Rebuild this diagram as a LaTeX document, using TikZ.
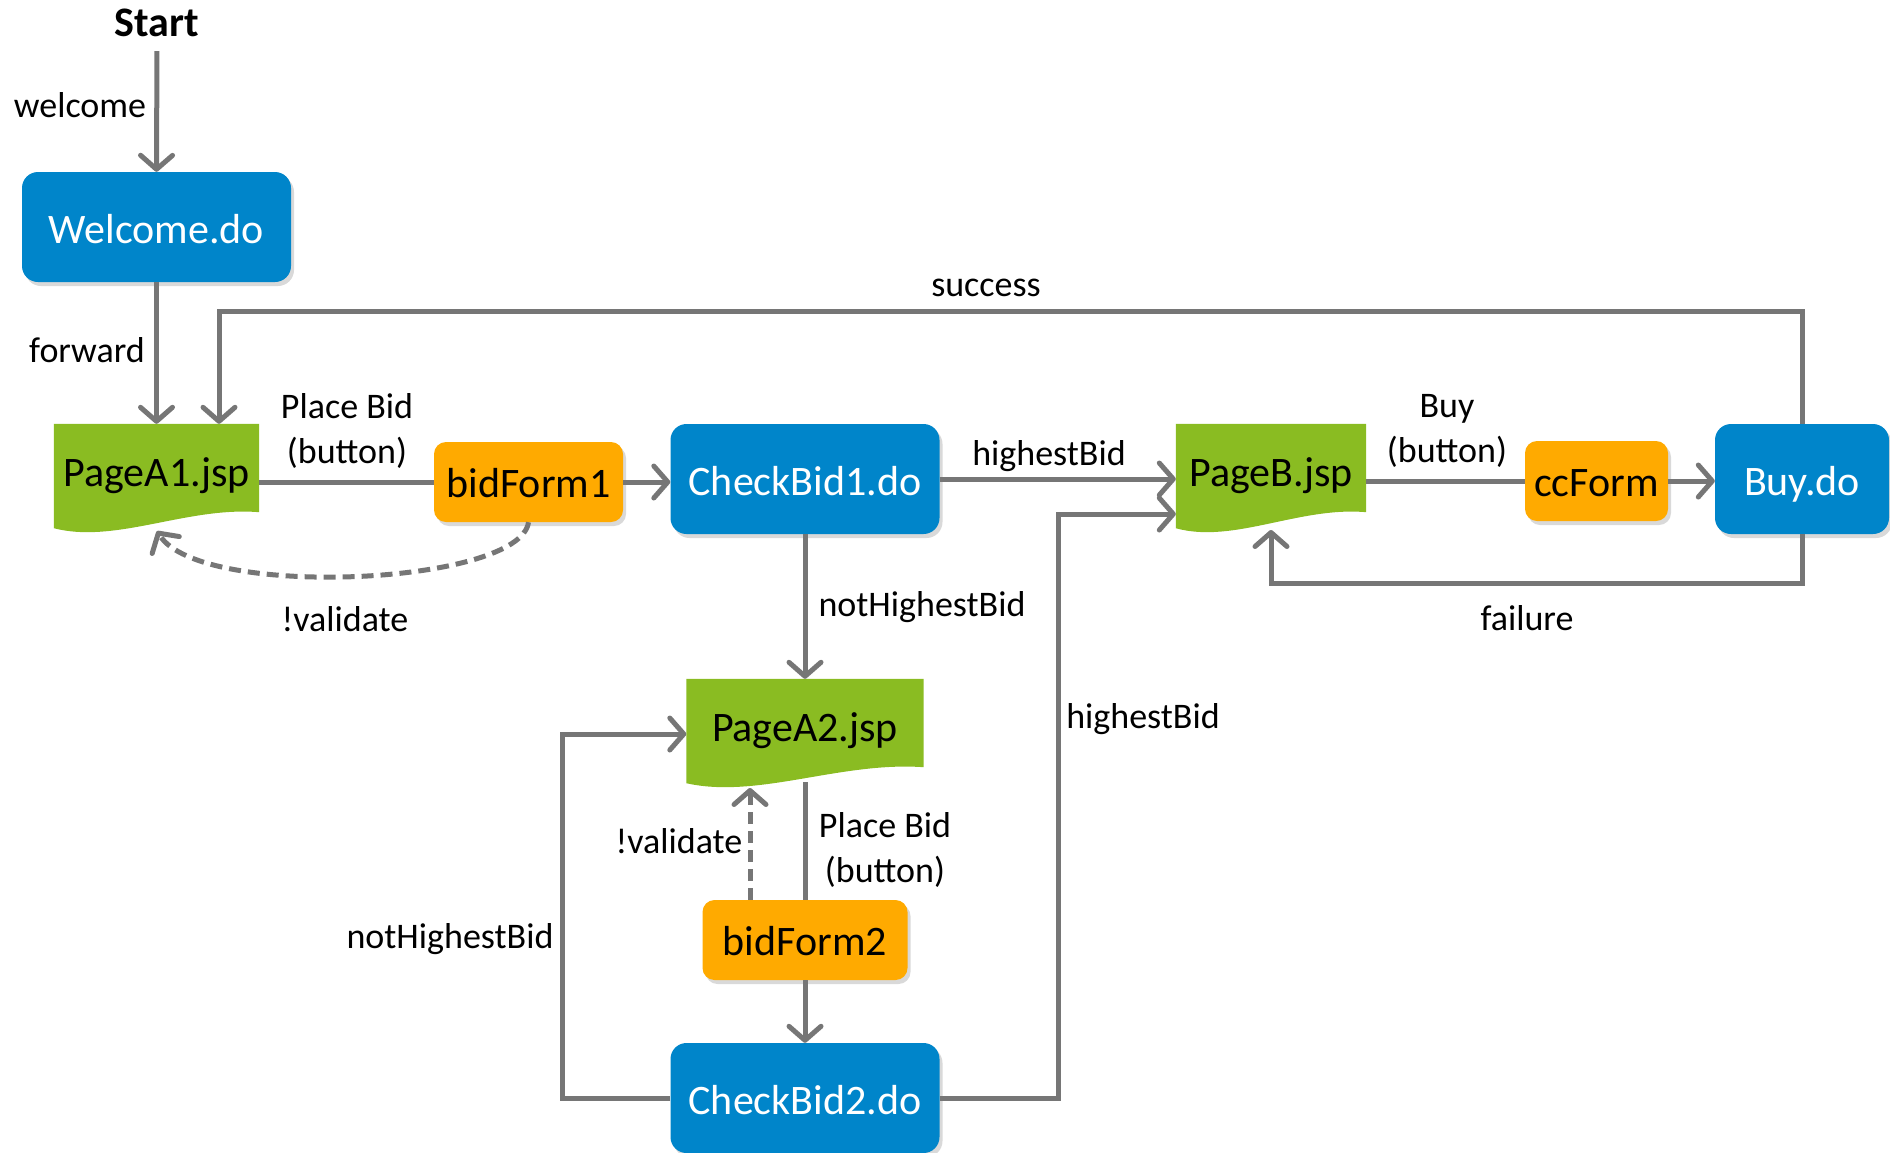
\documentclass[tikz,border=0pt]{standalone}
\usepackage{fontspec}
\setmainfont{Carlito}
\usetikzlibrary{arrows.meta,shadows,calc,backgrounds}
\definecolor{cblue}{RGB}{0,133,202}
\definecolor{cgreen}{RGB}{138,188,34}
\definecolor{corange}{RGB}{255,170,0}
\definecolor{cline}{RGB}{118,118,118}
\newcommand\bigfont{\fontsize{42}{50}\selectfont}
\newcommand\docpage[1]{\fill[cgreen] (#1.north west) -- (#1.north east) -- ($(#1.south east)+(0,-16)$) .. controls ($(#1.south west)!0.65!(#1.south east)+(0,-22)$) and ($(#1.south west)!0.3!(#1.south east)+(0,16)$) .. (#1.south west) -- cycle;}
\tikzset{
  action/.style={rectangle, rounded corners=16pt, fill=cblue, text=white, font=\bigfont,
    minimum height=110pt, inner sep=0pt, text height=33pt, text depth=0pt,
    drop shadow={opacity=0.3, shadow xshift=3pt, shadow yshift=-4pt}},
  form/.style={rectangle, rounded corners=12pt, fill=corange, font=\bigfont,
    minimum height=80pt, inner sep=0pt, text height=31pt, text depth=0pt,
    drop shadow={opacity=0.3, shadow xshift=3pt, shadow yshift=-4pt}},
  page/.style={rectangle, inner sep=0pt, minimum height=104pt, font=\bigfont},
  lbl/.style={font=\fontsize{36}{45}\selectfont, align=center, inner sep=0pt},
  conn/.style={draw=cline, line width=5pt},
  arr/.style={conn, -{Straight Barb[length=14pt,width=32pt,round]}},
  dashline/.style={arr, dash pattern=on 12pt off 7pt},
}
\begin{document}
\begin{tikzpicture}[x=1pt,y=-1pt]
\useasboundingbox (0,0) rectangle (1890,1152);

% nodes
\node[font=\bigfont\bfseries, inner sep=6pt] (start) at (157,23) {Start};
\node[action, minimum width=269pt] (welcome) at (156.5,227) {Welcome.do};
\node[page, minimum width=205pt] (pa1) at (156.5,476) {PageA1.jsp};
\node[form, minimum width=189pt] (bf1) at (528.5,482) {bidForm1};
\node[action, minimum width=269pt] (cb1) at (805,479) {CheckBid1.do};
\node[page, minimum width=190pt] (pb) at (1271,476) {PageB.jsp};
\node[form, minimum width=143pt] (cc) at (1596.5,481) {ccForm};
\node[action, minimum width=174pt] (buy) at (1802,479) {Buy.do};
\node[page, minimum width=237pt] (pa2) at (805,731) {PageA2.jsp};
\node[form, minimum width=205pt] (bf2) at (805,940) {bidForm2};
\node[action, minimum width=269pt] (cb2) at (805,1098) {CheckBid2.do};

\begin{pgfonlayer}{background}
\docpage{pa1}
\docpage{pb}
\docpage{pa2}
\end{pgfonlayer}

% labels
\node[lbl] (lwelcome) at (80,105) {welcome};
\node[lbl] (lforward) at (87,350) {forward};
\node[lbl] (lsuccess) at (986,288) {success};
\node[lbl] (lplace1) at (347,431) {Place Bid\\(button)};
\node[lbl] (lval1) at (345,619) {!validate};
\node[lbl] (lhigh1) at (1049,456) {highestBid};
\node[lbl] (lbuy) at (1447,431) {Buy\\(button)};
\node[lbl] (lfail) at (1527,618) {failure};
\node[lbl] (lnot1) at (922,607) {notHighestBid};
\node[lbl] (lhigh2) at (1143,719) {highestBid};
\node[lbl] (lval2) at (679,841) {!validate};
\node[lbl] (lplace2) at (885,850) {Place Bid\\(button)};
\node[lbl] (lnot2) at (450,939) {notHighestBid};

% connectors
\draw[arr, shorten <=8pt] (start.south) -- (welcome.north);
\draw[arr] (welcome.south) -- (welcome.south |- pa1.north);
\coordinate (sc) at (219,311);
\draw[arr] (buy.north) |- (sc) -- (sc |- pa1.north);
\draw[conn] (bf1.west -| pa1.east) -- (bf1.west);
\draw[arr] (bf1.east) -- (bf1.east -| cb1.west);
\coordinate (pa1b) at (157,531);
\draw[dashline] (bf1.south) .. controls (520,585) and (200,600) .. (pa1b);
\draw[arr] (cb1.east) -- (cb1.east -| pb.west);
\draw[conn] (cc.west -| pb.east) -- (cc.west);
\draw[arr] (cc.east) -- (cc.east -| buy.west);
\coordinate (fl) at (1271,583);
\coordinate (pbb) at (1271,530);
\draw[arr] (buy.south) |- (fl) -- (pbb);
\draw[arr] (cb1.south) -- (pa2.north);
\coordinate (pa2b) at (805,782);
\draw[conn] (pa2b) -- (bf2.north);
\coordinate (pa2v) at (750,788);
\draw[dashline] (bf2.north -| pa2v) -- (pa2v);
\draw[arr] (bf2.south) -- (cb2.north);
\coordinate (nh) at (562,734);
\draw[arr] (cb2.west) -| (nh) -- (nh -| pa2.west);
\coordinate (hb) at (1058,514);
\draw[arr] (cb2.east) -| (hb) -- (hb -| pb.west);
\end{tikzpicture}
\end{document}
